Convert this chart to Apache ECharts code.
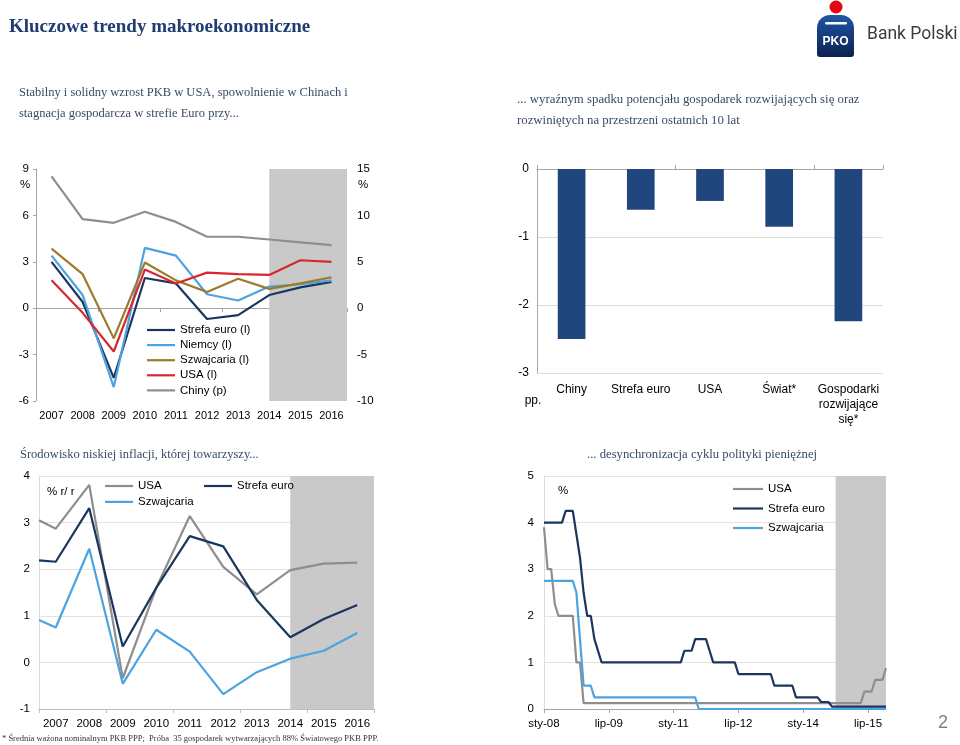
<!DOCTYPE html>
<html><head><meta charset="utf-8">
<script src="https://cdn.jsdelivr.net/npm/echarts@6/dist/echarts.min.js"></script>
<style>html,body{margin:0;padding:0;background:#fff}#c{width:960px;height:745px}</style>
</head><body><div id="c"></div>
<script>
// ---------- DATA ----------
// Top-left: GDP growth (%), IMF forecast from 2014
const gdpYearLabels = ['2007','2008','2009','2010','2011','2012','2013','2014','2015','2016'];
const gdpYears = [2007,2008,2009,2010,2011,2012,2013,2014,2015,2016];
const gdpEuro = [3.0, 0.4, -4.5, 1.95, 1.6, -0.7, -0.45, 0.85, 1.35, 1.7];
const gdpNiemcy = [3.4, 0.85, -5.1, 3.9, 3.4, 0.9, 0.5, 1.4, 1.55, 1.8];
const gdpSzwajcaria = [3.85, 2.2, -1.95, 2.95, 1.8, 1.05, 1.9, 1.25, 1.6, 2.0];
const gdpUSA = [1.8, -0.3, -2.8, 2.5, 1.6, 2.3, 2.2, 2.15, 3.1, 3.0];
const gdpChiny = [14.2, 9.6, 9.2, 10.4, 9.3, 7.7, 7.7, 7.4, 7.1, 6.8];
const forecastStart = 2014;

// Top-right: change in potential growth (pp.)
const potCats = ['Chiny','Strefa euro','USA','Świat*','Gospodarki\nrozwijające\nsię*'];
const potValues = [-2.5, -0.6, -0.47, -0.85, -2.24];

// Bottom-left: CPI inflation (% r/r)
const cpiX = [2006.5, 2007, 2008, 2009, 2010, 2011, 2012, 2013, 2014, 2015, 2016];
const cpiUSA = [3.05, 2.87, 3.81, -0.34, 1.6, 3.14, 2.05, 1.46, 1.98, 2.12, 2.14];
const cpiEuro = [2.19, 2.16, 3.31, 0.34, 1.6, 2.71, 2.49, 1.34, 0.54, 0.93, 1.23];
const cpiSzwajcaria = [0.91, 0.75, 2.44, -0.46, 0.7, 0.23, -0.68, -0.21, 0.08, 0.25, 0.63];

// Bottom-right: policy rates (%), monthly Jan 2008 - Dec 2015
const monthNames = ['sty','lut','mar','kwi','maj','cze','lip','sie','wrz','paź','lis','gru'];
const rateYears = ['08','09','10','11','12','13','14','15'];
const rateForecastStart = 'paź-14';
const rateUSA = [
  3.9,3.0,3.0,2.25,2.0,2.0,2.0,2.0,2.0,1.0,1.0,0.125,
  0.125,0.125,0.125,0.125,0.125,0.125,0.125,0.125,0.125,0.125,0.125,0.125,
  0.125,0.125,0.125,0.125,0.125,0.125,0.125,0.125,0.125,0.125,0.125,0.125,
  0.125,0.125,0.125,0.125,0.125,0.125,0.125,0.125,0.125,0.125,0.125,0.125,
  0.125,0.125,0.125,0.125,0.125,0.125,0.125,0.125,0.125,0.125,0.125,0.125,
  0.125,0.125,0.125,0.125,0.125,0.125,0.125,0.125,0.125,0.125,0.125,0.125,
  0.125,0.125,0.125,0.125,0.125,0.125,0.125,0.125,0.125,0.125,0.125,0.125,
  0.125,0.125,0.125,0.125,0.125,0.375,0.375,0.375,0.625,0.625,0.625,0.875
];
const rateEuro = [
  4.0,4.0,4.0,4.0,4.0,4.0,4.25,4.25,4.25,3.75,3.25,2.5,
  2.0,2.0,1.5,1.25,1.0,1.0,1.0,1.0,1.0,1.0,1.0,1.0,
  1.0,1.0,1.0,1.0,1.0,1.0,1.0,1.0,1.0,1.0,1.0,1.0,
  1.0,1.0,1.0,1.25,1.25,1.25,1.5,1.5,1.5,1.5,1.25,1.0,
  1.0,1.0,1.0,1.0,1.0,1.0,0.75,0.75,0.75,0.75,0.75,0.75,
  0.75,0.75,0.75,0.75,0.5,0.5,0.5,0.5,0.5,0.5,0.25,0.25,
  0.25,0.25,0.25,0.25,0.25,0.15,0.15,0.15,0.05,0.05,0.05,0.05,
  0.05,0.05,0.05,0.05,0.05,0.05,0.05,0.05,0.05,0.05,0.05,0.05
];
const rateSzwajcaria = [
  2.75,2.75,2.75,2.75,2.75,2.75,2.75,2.75,2.75,2.5,1.5,0.5,
  0.5,0.5,0.25,0.25,0.25,0.25,0.25,0.25,0.25,0.25,0.25,0.25,
  0.25,0.25,0.25,0.25,0.25,0.25,0.25,0.25,0.25,0.25,0.25,0.25,
  0.25,0.25,0.25,0.25,0.25,0.25,0.25,0,0,0,0,0,
  0,0,0,0,0,0,0,0,0,0,0,0,
  0,0,0,0,0,0,0,0,0,0,0,0,
  0,0,0,0,0,0,0,0,0,0,0,0,
  0,0,0,0,0,0,0,0,0,0,0,0
];

// ---------- BUILD ----------
const months = [];
rateYears.forEach(y => monthNames.forEach(m => months.push(m + '-' + y)));
const pairs = (xs, ys) => xs.map((x, i) => [x, ys[i]]);

const SANS = '"Liberation Sans", Arial, sans-serif';
const SERIF = '"Liberation Serif", "Times New Roman", serif';
const C_EURO = '#1B365D', C_NIEM = '#4DA3E0', C_SZW = '#9B7B2A', C_USA = '#D7282F', C_GRAY = '#8E8E8E', C_LBLUE = '#4DA3E0';
const BAND = '#C9C9C9';
const AX = '#A6A6A6', GRID = '#DDDDDD';
const TXT = '#3A4A66';

function lineSeries(name, data, color, xi, yi, extra) {
  return Object.assign({
    type: 'line', name, data, xAxisIndex: xi, yAxisIndex: yi,
    symbol: 'none', showSymbol: false, silent: true,
    lineStyle: { color, width: 2.2 }, itemStyle: { color }
  }, extra || {});
}
const bandArea = (from, to) => ({ silent: true, itemStyle: { color: BAND }, data: [[{ xAxis: from }, { xAxis: to }]] });

const lbl = (size) => ({ fontSize: size, fontFamily: SANS, color: '#000' });
const legendBase = (extra) => Object.assign({
  orient: 'vertical', icon: 'rect', itemWidth: 28, itemHeight: 2.2, textGap: 3,
  selectedMode: false, textStyle: lbl(11.5)
}, extra);

const option = {
  animation: false,
  backgroundColor: '#fff',
  grid: [
    { left: 36, top: 169, width: 311, height: 232 },
    { left: 537, top: 169, width: 346, height: 204 },
    { left: 39, top: 476, width: 335, height: 233 },
    { left: 544, top: 476, width: 342, height: 233 }
  ],
  xAxis: [
    { gridIndex: 0, type: 'category', data: gdpYearLabels, position: 'bottom', boundaryGap: true,
      axisLine: { show: false, onZero: false }, axisTick: { show: false },
      axisLabel: Object.assign({ margin: 9, interval: 0 }, lbl(11)) },
    { gridIndex: 0, type: 'value', min: gdpYears[0] - 0.5, max: gdpYears[gdpYears.length - 1] + 0.5, show: false, position: 'top' },
    { gridIndex: 0, type: 'category', data: gdpYearLabels, position: 'bottom',
      axisLine: { show: true, onZero: true, lineStyle: { color: AX } },
      axisTick: { show: true, length: 4, lineStyle: { color: AX } }, axisLabel: { show: false } },
    { gridIndex: 1, type: 'category', data: potCats, position: 'top',
      axisLine: { show: true, onZero: false, lineStyle: { color: AX } },
      axisTick: { show: true, length: 4, lineStyle: { color: AX } }, axisLabel: { show: false } },
    { gridIndex: 1, type: 'category', data: potCats, position: 'bottom',
      axisLine: { show: false, onZero: false }, axisTick: { show: false },
      axisLabel: Object.assign({ margin: 9, lineHeight: 15, interval: 0 }, lbl(12)) },
    { gridIndex: 2, type: 'category', data: gdpYearLabels, position: 'bottom',
      axisLine: { show: true, onZero: false, lineStyle: { color: GRID } }, axisTick: { show: false },
      axisLabel: Object.assign({ margin: 9, interval: 0 }, lbl(11.5)) },
    { gridIndex: 2, type: 'value', min: gdpYears[0] - 0.5, max: gdpYears[gdpYears.length - 1] + 0.5, show: false, position: 'top' },
    { gridIndex: 2, type: 'category', data: gdpYearLabels, position: 'bottom',
      axisLine: { show: true, onZero: true, lineStyle: { color: '#BFBFBF' } },
      axisTick: { show: true, length: 4, lineStyle: { color: '#BFBFBF' } }, axisLabel: { show: false } },
    { gridIndex: 3, type: 'category', data: months, boundaryGap: false, position: 'bottom',
      axisLine: { show: true, lineStyle: { color: AX } },
      axisTick: { show: true, interval: 17, length: 4, lineStyle: { color: AX } },
      axisLabel: Object.assign({ interval: 17, margin: 9 }, lbl(11.5)) }
  ],
  yAxis: [
    { gridIndex: 0, type: 'value', min: -6, max: 9, interval: 3, position: 'left',
      axisLine: { show: true, lineStyle: { color: AX } }, axisTick: { show: true, length: 3, lineStyle: { color: AX } },
      splitLine: { show: false }, axisLabel: Object.assign({ margin: 7 }, lbl(11.5)) },
    { gridIndex: 0, type: 'value', min: -10, max: 15, interval: 5, position: 'right',
      axisLine: { show: false }, axisTick: { show: false },
      splitLine: { show: false }, axisLabel: Object.assign({ margin: 10 }, lbl(11.5)) },
    { gridIndex: 1, type: 'value', min: -3, max: 0, interval: 1,
      axisLine: { show: true, lineStyle: { color: AX } }, axisTick: { show: false },
      splitLine: { show: true, lineStyle: { color: GRID } }, axisLabel: Object.assign({ margin: 8 }, lbl(12)) },
    { gridIndex: 2, type: 'value', min: -1, max: 4, interval: 1,
      axisLine: { show: true, lineStyle: { color: GRID } }, axisTick: { show: false },
      splitLine: { show: true, lineStyle: { color: '#E3E3E3' } }, axisLabel: Object.assign({ margin: 9 }, lbl(11.5)) },
    { gridIndex: 3, type: 'value', min: 0, max: 5, interval: 1,
      axisLine: { show: true, lineStyle: { color: GRID } }, axisTick: { show: false },
      splitLine: { show: true, lineStyle: { color: '#E3E3E3' } }, axisLabel: Object.assign({ margin: 10 }, lbl(11.5)) }
  ],
  legend: [
    legendBase({ data: ['Strefa euro (l)', 'Niemcy (l)', 'Szwajcaria (l)', 'USA (l)', 'Chiny (p)'], left: 142, top: 319, itemGap: 3.1 }),
    legendBase({ data: ['USA', 'Szwajcaria'], left: 100, top: 475, itemGap: 3.9 }),
    legendBase({ data: ['Strefa euro'], left: 199, top: 475, itemGap: 3.9 }),
    legendBase({ data: ['USA', 'Strefa euro', 'Szwajcaria'], left: 728, top: 478, itemWidth: 30, itemGap: 7.5 })
  ],
  series: [
    lineSeries('Strefa euro (l)', pairs(gdpYears, gdpEuro), C_EURO, 1, 0,
      { markArea: bandArea(forecastStart, gdpYears[gdpYears.length - 1] + 0.5), z: 3 }),
    lineSeries('Niemcy (l)', pairs(gdpYears, gdpNiemcy), C_NIEM, 1, 0),
    lineSeries('Szwajcaria (l)', pairs(gdpYears, gdpSzwajcaria), C_SZW, 1, 0),
    lineSeries('USA (l)', pairs(gdpYears, gdpUSA), C_USA, 1, 0),
    lineSeries('Chiny (p)', pairs(gdpYears, gdpChiny), C_GRAY, 1, 1),
    { type: 'bar', name: 'Potencjał', data: potValues, xAxisIndex: 3, yAxisIndex: 2, barWidth: '40%', silent: true,
      itemStyle: { color: '#21467D' } },
    lineSeries('USA', pairs(cpiX, cpiUSA), C_GRAY, 6, 3,
      { markArea: bandArea(forecastStart, gdpYears[gdpYears.length - 1] + 0.5) }),
    lineSeries('Strefa euro', pairs(cpiX, cpiEuro), C_EURO, 6, 3),
    lineSeries('Szwajcaria', pairs(cpiX, cpiSzwajcaria), C_LBLUE, 6, 3),
    lineSeries('USA', rateUSA, C_GRAY, 8, 4,
      { markArea: bandArea(rateForecastStart, months[months.length - 1]) }),
    lineSeries('Strefa euro', rateEuro, C_EURO, 8, 4),
    lineSeries('Szwajcaria', rateSzwajcaria, C_LBLUE, 8, 4)
  ],
  graphic: [
    { type: 'text', left: 9, top: 18, style: { text: 'Kluczowe trendy makroekonomiczne', font: 'bold 19px ' + SERIF, fill: '#1F3C73' } },
    { type: 'text', left: 19, top: 86, style: { text: 'Stabilny i solidny wzrost PKB w USA, spowolnienie w Chinach i', font: '12.5px ' + SERIF, fill: TXT } },
    { type: 'text', left: 19, top: 107, style: { text: 'stagnacja gospodarcza w strefie Euro przy...', font: '12.5px ' + SERIF, fill: TXT } },
    { type: 'text', left: 517, top: 93, style: { text: '... wyraźnym spadku potencjału gospodarek rozwijających się oraz', font: '12.8px ' + SERIF, fill: TXT } },
    { type: 'text', left: 517, top: 114, style: { text: 'rozwiniętych na przestrzeni ostatnich 10 lat', font: '12.8px ' + SERIF, fill: TXT } },
    { type: 'text', left: 20, top: 448, style: { text: 'Środowisko niskiej inflacji, której towarzyszy...', font: '12.5px ' + SERIF, fill: TXT } },
    { type: 'text', left: 587, top: 448, style: { text: '... desynchronizacja cyklu polityki pieniężnej', font: '12.7px ' + SERIF, fill: TXT } },
    { type: 'text', left: 2, top: 734, style: { text: '* Średnia ważona nominalnym PKB PPP;  Próba  35 gospodarek wytwarzających 88% Światowego PKB PPP.', font: '8.5px ' + SERIF, fill: '#333' } },
    { type: 'text', x: 943, y: 723, style: { text: '2', font: '18px ' + SANS, fill: '#808080', textAlign: 'center', textVerticalAlign: 'middle' } },
    { type: 'text', x: 25, y: 185, style: { text: '%', font: '11.5px ' + SANS, fill: '#000', textAlign: 'center', textVerticalAlign: 'middle' } },
    { type: 'text', x: 363, y: 185, style: { text: '%', font: '11.5px ' + SANS, fill: '#000', textAlign: 'center', textVerticalAlign: 'middle' } },
    { type: 'text', x: 533, y: 401, style: { text: 'pp.', font: '12px ' + SANS, fill: '#000', textAlign: 'center', textVerticalAlign: 'middle' } },
    { type: 'text', x: 47, y: 492, style: { text: '% r/ r', font: '11.5px ' + SANS, fill: '#000', textAlign: 'left', textVerticalAlign: 'middle' } },
    { type: 'text', x: 563, y: 491, style: { text: '%', font: '11.5px ' + SANS, fill: '#000', textAlign: 'center', textVerticalAlign: 'middle' } },
    { type: 'text', x: 308, y: 196, style: { text: 'Prognoza\nMFW', font: '11.5px ' + SANS, lineHeight: 15, fill: '#222', textAlign: 'center', textVerticalAlign: 'middle' } },
    { type: 'text', x: 331, y: 496, style: { text: 'Prognoza\nMFW', font: '11.5px ' + SANS, lineHeight: 15, fill: '#222', textAlign: 'center', textVerticalAlign: 'middle' } },
    { type: 'rect', shape: { x: 817, y: 15, width: 37, height: 42, r: [13, 13, 3, 3] },
      style: { fill: new echarts.graphic.LinearGradient(0, 0, 0, 1, [{ offset: 0, color: '#1F56A8' }, { offset: 1, color: '#0B2150' }]) } },
    { type: 'circle', shape: { cx: 836, cy: 7, r: 6.5 }, style: { fill: '#E30613' } },
    { type: 'rect', shape: { x: 825, y: 22, width: 22, height: 2.5, r: 1.2 }, style: { fill: '#fff' } },
    { type: 'text', x: 835.5, y: 42, style: { text: 'PKO', font: 'bold 12px ' + SANS, fill: '#fff', textAlign: 'center', textVerticalAlign: 'middle' } },
    { type: 'text', x: 867, y: 35, style: { text: 'Bank Polski', font: '17.5px Roboto, ' + SANS, fill: '#3C3C3C', textAlign: 'left', textVerticalAlign: 'middle' } }
  ]
};

const chart = echarts.init(document.getElementById('c'), null, { renderer: 'canvas', width: 960, height: 745 });
chart.setOption(option);
</script>
</body></html>
